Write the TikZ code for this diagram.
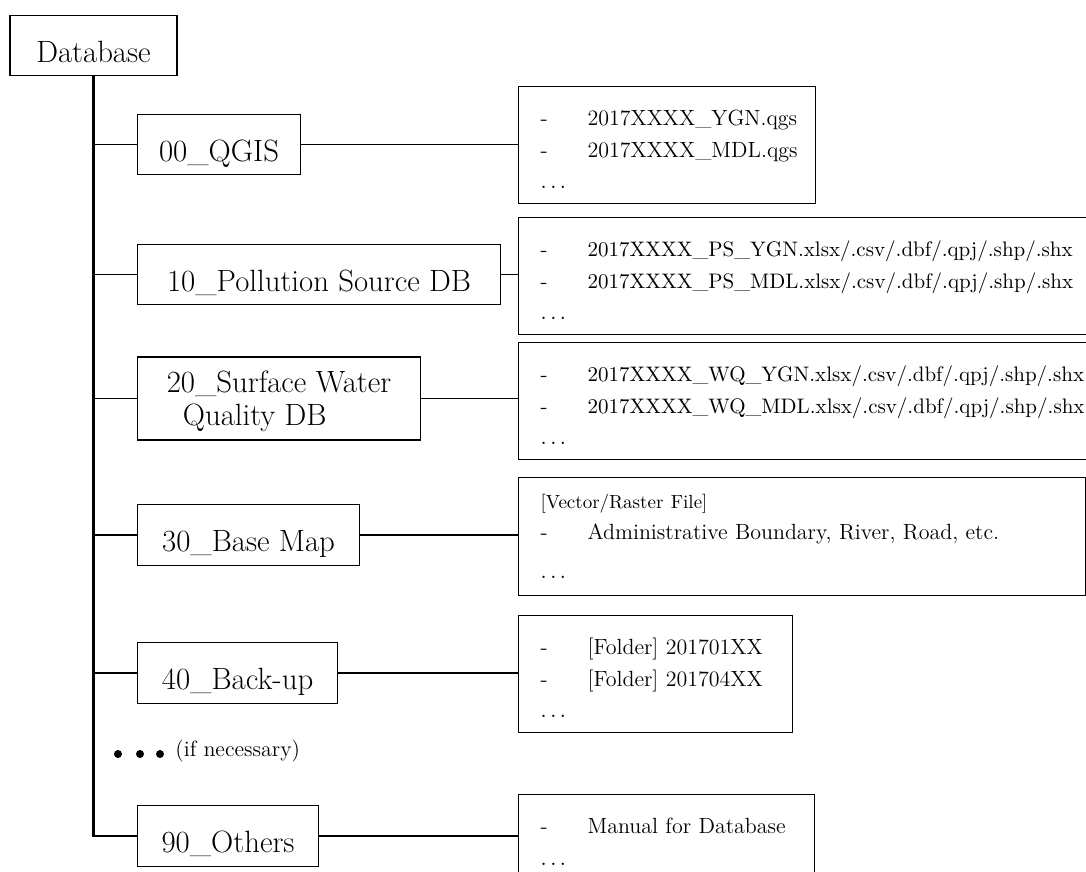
\documentclass[tikz,border=0pt]{standalone}
\usepackage{tikz}
\newcommand\fbgap{\rule{0pt}{12pt}}
\newcommand\fbdash{\makebox[23.5pt][l]{-}}

\begin{document}
\begin{tikzpicture}[x=0.5pt,y=-0.5pt,
  dirbox/.style={draw,line width=0.55pt,anchor=west,inner xsep=0pt,inner ysep=6.9pt,
    text height=16.6pt,text depth=0pt,font=\fontsize{15.4}{16.5}\selectfont},
  filebox/.style={draw,line width=0.55pt,anchor=north west,align=left,inner xsep=11pt,
    inner ysep=7.5pt,text width=#1,font=\fontsize{11}{15.75}\selectfont},
  branch/.style={line width=0.7pt},
  trunk/.style={line width=1.1pt}]
  \useasboundingbox (0,0) rectangle (1086,872);
  \clip (0,0) rectangle (1086,872);

  % folders
  \node[dirbox,anchor=center,minimum width=83.5pt] (db) at (93.5,45.5) {Database};
  \node[dirbox,minimum width=81.5pt] (qgis) at (137,144.5) {00\_QGIS};
  \node[dirbox,minimum width=181.5pt] (ps) at (137,274.5) {10\_Pollution Source DB};
  \node[dirbox,minimum width=141.5pt,minimum height=41.5pt,text height={},inner ysep=3pt,
    align=left] (wq) at (137,398.5) {20\_Surface Water\\\hspace*{8pt}Quality DB};
  \node[dirbox,minimum width=111pt] (base) at (137,535) {30\_Base Map};
  \node[dirbox,minimum width=100pt] (backup) at (137,673) {40\_Back-up};
  \node[dirbox,minimum width=90.5pt] (others) at (137,836) {90\_Others};

  % file lists
  \node[filebox=126.5pt] (qgisf) at (518,86)
    {\fbgap\fbdash 2017XXXX\_YGN.qgs\\
     \fbdash 2017XXXX\_MDL.qgs\\ $\ldots$};
  \node[filebox=290pt,font=\fontsize{10.5}{15.75}\selectfont] (psf) at (518,217)
    {\fbgap\fbdash 2017XXXX\_PS\_YGN.xlsx/.csv/.dbf/.qpj/.shp/.shx\\
     \fbdash 2017XXXX\_PS\_MDL.xlsx/.csv/.dbf/.qpj/.shp/.shx\\ $\ldots$};
  \node[filebox=290pt,font=\fontsize{10.5}{15.75}\selectfont] (wqf) at (518,342)
    {\fbgap\fbdash 2017XXXX\_WQ\_YGN.xlsx/.csv/.dbf/.qpj/.shp/.shx\\
     \fbdash 2017XXXX\_WQ\_MDL.xlsx/.csv/.dbf/.qpj/.shp/.shx\\ $\ldots$};
  \node[filebox=261.5pt,inner ysep=8.2pt] (basef) at (518,477)
    {{\fontsize{9.5}{12}\selectfont [Vector/Raster File]}\\
     \fbdash Administrative Boundary, River, Road, etc.\\[3.75pt] $\ldots$};
  \node[filebox=115pt] (backupf) at (518,615)
    {\fbgap\fbdash [Folder] 201701XX\\
     \fbdash [Folder] 201704XX\\ $\ldots$};
  \node[filebox=126pt] (othersf) at (518,794)
    {\fbgap\fbdash Manual for Database\\ $\ldots$\\ \mbox{}};

  % tree
  \draw[trunk] (db.south) |- (others.west);
  \foreach \d in {qgis,ps,wq,base,backup}
    \draw[branch] (db.south |- \d.west) -- (\d.west);
  \foreach \d in {qgis,ps,wq,base,backup,others}
    \draw[branch] (\d.east) -- (\d.east -| \d f.west);

  \foreach \x in {118,140,160}
    \fill (\x,754) circle[radius=2pt];
  \node[anchor=west,inner sep=0pt,font=\fontsize{11}{13}\selectfont] (more) at (175,751)
    {(if necessary)};
\end{tikzpicture}
\end{document}
